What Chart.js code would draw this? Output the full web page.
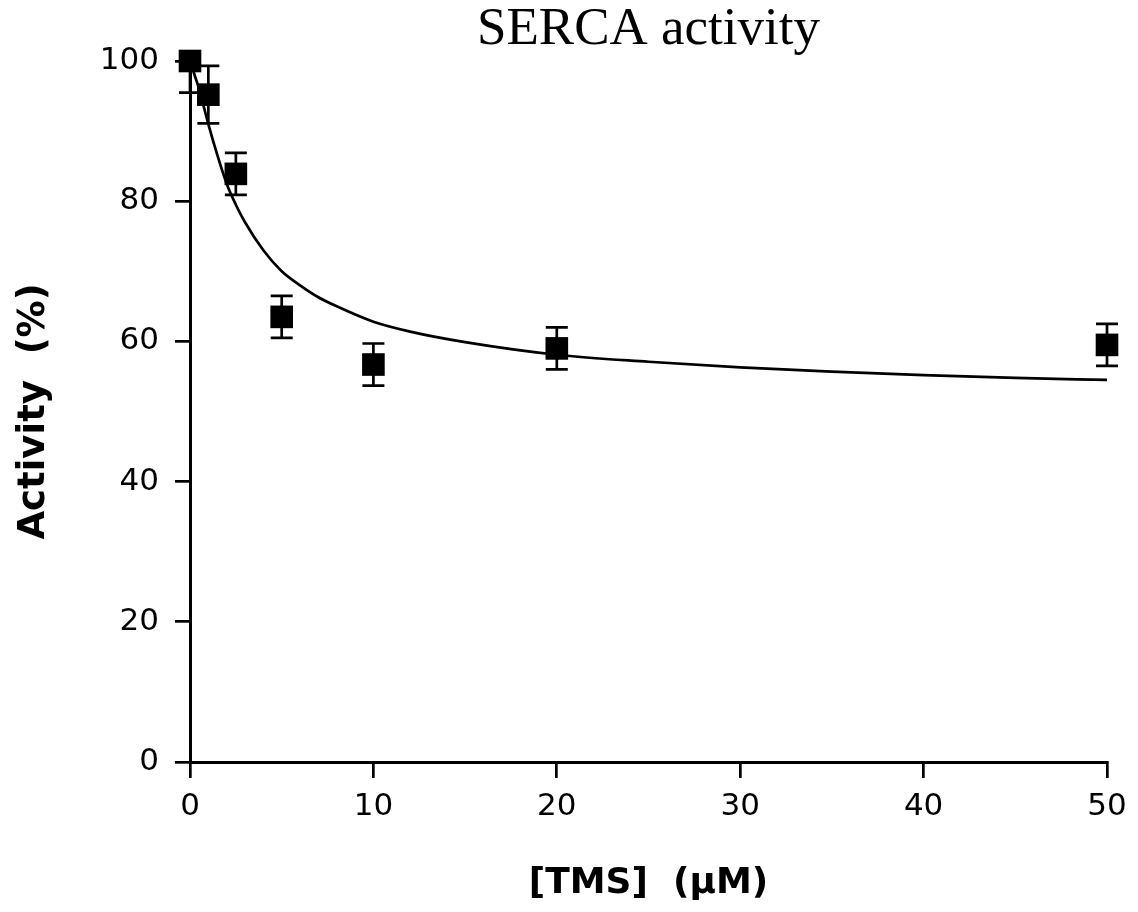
<!DOCTYPE html>
<html>
<head>
<meta charset="utf-8">
<script src="https://cdn.jsdelivr.net/npm/chart.js@4.4.1/dist/chart.umd.min.js"></script>
<style>
  body { margin: 0; background: #fff; }
  #wrap { width: 1138px; height: 912px; }
</style>
</head>
<body>
<div id="wrap"><canvas id="chart"></canvas></div>
<script>
// measured points (mean +/- error)
const doses = [0, 1, 2.5, 5, 10, 20, 50];
const activity = [100, 95.2, 83.9, 63.5, 56.7, 59.0, 59.5];
const errors = [4.5, 4.1, 3.0, 3.0, 3.0, 3.0, 3.0];

// fitted curve
const fitX = [0, 0.25, 0.5, 0.75, 1, 1.5, 2, 2.5, 3, 4, 5, 6, 7, 8, 10, 12, 15, 20, 25, 30, 35, 40, 45, 50];
const fitY = [100, 98, 96, 93.5, 91, 86.5, 82.5, 79.5, 77, 73, 70, 68, 66.3, 65, 62.8, 61.4, 59.9, 58.1, 57.1, 56.3, 55.7, 55.2, 54.8, 54.5];

const xTicks = [0, 10, 20, 30, 40, 50];
const yTicks = [0, 20, 40, 60, 80, 100];

Chart.defaults.color = '#000';

const errorBars = {
  id: 'errorBars',
  beforeDatasetsDraw(chart) {
    const ctx = chart.ctx;
    const xs = chart.scales.x, ys = chart.scales.y;
    const area = chart.chartArea;
    ctx.save();
    ctx.beginPath();
    ctx.rect(0, area.top - 1, chart.width, area.bottom - area.top + 2);
    ctx.clip();
    ctx.strokeStyle = '#000';
    ctx.lineWidth = 2.7;
    doses.forEach(function(d, i) {
      const px = xs.getPixelForValue(d);
      const top = ys.getPixelForValue(activity[i] + errors[i]);
      const bot = ys.getPixelForValue(activity[i] - errors[i]);
      ctx.beginPath();
      ctx.moveTo(px, top); ctx.lineTo(px, bot);
      ctx.moveTo(px - 11, top); ctx.lineTo(px + 11, top);
      ctx.moveTo(px - 11, bot); ctx.lineTo(px + 11, bot);
      ctx.stroke();
    });
    ctx.restore();
  }
};

new Chart(document.getElementById('chart'), {
  type: 'scatter',
  data: {
    datasets: [
      {
        label: 'fit',
        data: fitX.map(function(x, i) { return {x: x, y: fitY[i]}; }),
        showLine: true,
        borderColor: '#000',
        borderWidth: 2.7,
        pointRadius: 0,
        cubicInterpolationMode: 'monotone',
        order: 2
      },
      {
        label: 'SERCA',
        data: doses.map(function(x, i) { return {x: x, y: activity[i]}; }),
        pointStyle: 'rect',
        pointRadius: 16,
        pointHoverRadius: 16,
        backgroundColor: '#000',
        borderWidth: 0,
        clip: false,
        order: 1
      }
    ]
  },
  options: {
    responsive: true,
    maintainAspectRatio: false,
    animation: false,
    layout: { padding: { top: 0, right: 31, bottom: 0, left: 0 } },
    plugins: {
      legend: { display: false },
      tooltip: { enabled: false },
      title: {
        display: true,
        text: 'SERCA activity',
        fullSize: false,
        color: '#000',
        align: 'center',
        font: { family: 'Liberation Serif', size: 53, weight: 'normal', lineHeight: 1 },
        padding: { top: 4, bottom: 4 }
      }
    },
    scales: {
      x: {
        type: 'linear',
        min: 0, max: 50,
        afterFit: function(s) { s.height = 150; },
        afterBuildTicks: function(s) { s.ticks = xTicks.map(function(v) { return {value: v}; }); },
        border: { color: '#000', width: 3 },
        grid: { drawOnChartArea: false, color: '#000', lineWidth: 2.7, tickLength: 16, tickColor: '#000' },
        ticks: { font: { family: 'DejaVu Sans', size: 31 }, padding: 10, color: '#000' },
        title: {
          display: true,
          text: '[TMS]  (\u00b5M)',
          color: '#000',
          font: { family: 'DejaVu Sans', size: 36, weight: 'bold' },
          padding: { top: 0, bottom: 7 }
        }
      },
      y: {
        min: 0, max: 100,
        afterFit: function(s) { s.width = 190; },
        afterBuildTicks: function(s) { s.ticks = yTicks.map(function(v) { return {value: v}; }); },
        border: { color: '#000', width: 3 },
        grid: { drawOnChartArea: false, color: '#000', lineWidth: 2.7, tickLength: 15, tickColor: '#000' },
        ticks: { font: { family: 'DejaVu Sans', size: 31 }, padding: 16, color: '#000' },
        title: {
          display: true,
          text: 'Activity  (%)',
          color: '#000',
          font: { family: 'DejaVu Sans', size: 37, weight: 'bold' },
          padding: { top: 12, bottom: 0 }
        }
      }
    }
  },
  plugins: [errorBars]
});
</script>
</body>
</html>
